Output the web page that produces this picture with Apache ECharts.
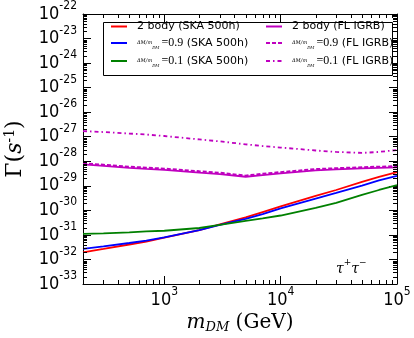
<!DOCTYPE html>
<html>
<head>
<meta charset="UTF-8">
<title></title>
<style type="text/css">
  html, body, #chart {
    margin: 0;
    padding: 0;
    width: 414px;
    height: 338px;
    background: #fff;
    overflow: hidden;
  }
</style>
</head>
<body>
<div id="chart"></div>
<script src="https://cdn.jsdelivr.net/npm/echarts@6/dist/echarts.min.js"></script>
<script>
// dark matter mass (GeV) and decay rate Gamma (s^-1)
const massGeV = [200, 300, 500, 700, 1000, 2000, 3000, 5000, 7000, 10000, 20000, 30000, 50000, 70000, 100000];
const gammaTwoBodySKA = [1.95e-32, 2.69e-32, 4.07e-32, 5.37e-32, 7.76e-32, 1.58e-31, 2.69e-31, 5.13e-31, 8.51e-31, 1.45e-30, 3.89e-30, 6.76e-30, 1.45e-29, 2.29e-29, 3.63e-29];
const gamma09SKA = [2.69e-32, 3.39e-32, 4.68e-32, 5.89e-32, 7.94e-32, 1.58e-31, 2.57e-31, 4.47e-31, 7.08e-31, 1.20e-30, 3.02e-30, 5.13e-30, 1.02e-29, 1.66e-29, 2.57e-29];
const gamma01SKA = [1.10e-31, 1.15e-31, 1.26e-31, 1.38e-31, 1.48e-31, 1.91e-31, 2.57e-31, 3.72e-31, 4.68e-31, 6.17e-31, 1.26e-30, 2.00e-30, 4.27e-30, 6.76e-30, 1.07e-29];
const gammaTwoBodyFL = [7.41e-29, 6.46e-29, 5.37e-29, 4.90e-29, 4.47e-29, 3.47e-29, 3.02e-29, 2.34e-29, 2.75e-29, 3.24e-29, 4.27e-29, 4.68e-29, 5.13e-29, 5.37e-29, 5.62e-29];
const gamma09FL = [8.3e-29, 7.2e-29, 6.0e-29, 5.5e-29, 5.0e-29, 3.9e-29, 3.4e-29, 2.6e-29, 3.1e-29, 3.6e-29, 4.8e-29, 5.2e-29, 5.7e-29, 6.0e-29, 6.3e-29];
const gamma01FL = [1.70e-27, 1.55e-27, 1.35e-27, 1.23e-27, 1.07e-27, 7.76e-28, 6.46e-28, 4.90e-28, 4.17e-28, 3.63e-28, 2.75e-28, 2.40e-28, 2.19e-28, 2.40e-28, 2.88e-28];

const seriesNames = [
  '2 body (SKA 500h)', 'ΔM/mDM = 0.9 (SKA 500h)', 'ΔM/mDM = 0.1 (SKA 500h)',
  '2 body (FL IGRB)', 'ΔM/mDM = 0.9 (FL IGRB)', 'ΔM/mDM = 0.1 (FL IGRB)'
];
const X_MIN = 200, X_MAX = 1e5;
// y axis runs in decades (log10 of Gamma): ECharts' log scale rounds 1e-30 to 0
const Y_MIN_EXP = -33, Y_MAX_EXP = -22;
const minorSteps = [2, 3, 4, 5, 6, 7, 8, 9];

const SANS = "'DejaVu Sans Condensed', 'DejaVu Sans'";
const SERIF = "'DejaVu Serif'";

// log minor tick positions (axis decoration only)
function minorTicks(lo, hi) {
  const out = [];
  for (let e = Math.floor(Math.log10(lo)); e < Math.ceil(Math.log10(hi)); e++) {
    minorSteps.forEach(function (k) {
      const v = k * Math.pow(10, e);
      if (v > lo * 1.0001 && v < hi * 0.9999) out.push(v);
    });
  }
  return out;
}

function xLabel(v) {
  const l = Math.log10(v);
  const e = Math.round(l);
  if (Math.abs(l - e) > 1e-6) return '';
  return '{b|10}{s|' + e + '}';
}

function yLabel(e) {
  return '{b|10}{s|' + Math.round(e) + '}';
}

const tickRich = {
  b: { fontFamily: SANS, fontSize: 18, lineHeight: 28, verticalAlign: 'middle', color: '#000' },
  s: { fontFamily: SANS, fontSize: 12, lineHeight: 11, verticalAlign: 'top', color: '#000' }
};

function pairs(ys) {
  return massGeV.map(function (m, i) { return [m, Math.log10(ys[i])]; });
}

function lineSeries(name, ys, color, type, width) {
  return {
    name: name,
    type: 'line',
    data: pairs(ys),
    symbol: 'none',
    smooth: false,
    lineStyle: { color: color, width: width, type: type },
    itemStyle: { color: color },
    z: 3
  };
}

function tickSeries(values, dir) {
  return {
    type: 'custom',
    silent: true,
    clip: false,
    z: 10,
    data: values.map(function (v) { return dir === 'x' ? [v, Y_MIN_EXP] : [X_MIN, Math.log10(v)]; }),
    renderItem: function (params, api) {
      const cs = params.coordSys;
      const p = api.coord([api.value(0), api.value(1)]);
      const st = { stroke: '#000', lineWidth: 1 };
      if (dir === 'x') {
        const x = Math.round(p[0]) + 0.5;
        return { type: 'group', children: [
          { type: 'line', shape: { x1: x, y1: cs.y + cs.height, x2: x, y2: cs.y + cs.height - 4 }, style: st },
          { type: 'line', shape: { x1: x, y1: cs.y, x2: x, y2: cs.y + 4 }, style: st }
        ] };
      }
      const y = Math.round(p[1]) + 0.5;
      return { type: 'group', children: [
        { type: 'line', shape: { x1: cs.x, y1: y, x2: cs.x + 4, y2: y }, style: st },
        { type: 'line', shape: { x1: cs.x + cs.width, y1: y, x2: cs.x + cs.width - 4, y2: y }, style: st }
      ] };
    }
  };
}

function legendLabel(name) {
  const m = name.match(/^ΔM\/mDM = (0\.\d) (.*)$/);
  if (!m) return '{t|' + name + '}';
  return '{fr|ΔM/m}{sb|DM}{m|=' + m[1] + '}{t| ' + m[2] + '}';
}

const legendText = {
  padding: [0, 0, 0, 5],
  rich: {
    t: { fontFamily: "'DejaVu Sans'", fontSize: 11, lineHeight: 14, color: '#000' },
    fr: { fontFamily: SERIF, fontStyle: 'italic', fontSize: 5, lineHeight: 14, color: '#000' },
    sb: { fontFamily: SERIF, fontStyle: 'italic', fontSize: 4, lineHeight: 10, verticalAlign: 'bottom', color: '#000', padding: [0, 2, 0, 0] },
    m: { fontFamily: "'Liberation Serif'", fontSize: 12, lineHeight: 14, color: '#000' }
  }
};

function legendBlock(names, left) {
  return {
    data: names,
    orient: 'vertical',
    left: left,
    top: 21,
    padding: 0,
    itemGap: 5,
    itemWidth: 16,
    itemHeight: 10,
    z: 6,
    selectedMode: false,
    itemStyle: { opacity: 0 },
    formatter: legendLabel,
    textStyle: legendText
  };
}

const axisCommon = {
  axisLine: { show: true, onZero: false, lineStyle: { color: '#000', width: 1 } },
  axisTick: { show: true, inside: true, length: 8, lineStyle: { color: '#000', width: 1 } },
  splitLine: { show: false },
  minorTick: { show: false },
  minorSplitLine: { show: false },
  nameMoveOverlap: false
};

const chart = echarts.init(document.getElementById('chart'), null, { renderer: 'canvas' });

chart.setOption({
  animation: false,
  backgroundColor: '#fff',
  grid: { left: 83, right: 17, top: 14, bottom: 54, containLabel: false, outerBoundsMode: 'none' },
  legend: [
    legendBlock(seriesNames.slice(0, 3), 110),
    legendBlock(seriesNames.slice(3), 265)
  ],
  graphic: [
    {
      type: 'rect', z: 5, silent: true,
      shape: { x: 103.5, y: 22.5, width: 289, height: 53 },
      style: { fill: '#fff', stroke: '#000', lineWidth: 1 }
    },
    {
      type: 'text', z: 6, left: 336, top: 258, silent: true,
      style: {
        text: '{i|τ}{p|+}{i|τ}{p|−}',
        rich: {
          i: { fontFamily: SERIF, fontStyle: 'italic', fontSize: 14, lineHeight: 18, verticalAlign: 'bottom', fill: '#000' },
          p: { fontFamily: SERIF, fontSize: 9, lineHeight: 9, verticalAlign: 'top', fill: '#000' }
        }
      }
    }
  ],
  xAxis: [
    Object.assign({}, axisCommon, {
      type: 'log', logBase: 10,
      min: X_MIN, max: X_MAX, position: 'bottom',
      axisLabel: { formatter: xLabel, margin: 2, rich: tickRich, showMinLabel: false },
      name: '{i|m}{sb|DM}{a| (GeV)}',
      nameLocation: 'middle',
      nameGap: 28,
      nameTextStyle: {
        rich: {
          i: { fontFamily: SERIF, fontStyle: 'italic', fontSize: 20, lineHeight: 22, color: '#000' },
          sb: { fontFamily: SERIF, fontStyle: 'italic', fontSize: 13, lineHeight: 12, verticalAlign: 'bottom', color: '#000' },
          a: { fontFamily: SERIF, fontSize: 20, lineHeight: 22, color: '#000' }
        }
      }
    }),
    Object.assign({}, axisCommon, {
      type: 'log', logBase: 10,
      min: X_MIN, max: X_MAX, position: 'top',
      axisLabel: { show: false }
    })
  ],
  yAxis: [
    Object.assign({}, axisCommon, {
      type: 'value',
      min: Y_MIN_EXP, max: Y_MAX_EXP, interval: 1, position: 'left',
      axisLabel: { formatter: yLabel, margin: 6, rich: tickRich },
      name: '{a|Γ(}{i|s}{p|-1}{a|)}',
      nameLocation: 'middle',
      nameGap: 56,
      nameRotate: 90,
      nameTextStyle: {
        rich: {
          a: { fontFamily: SERIF, fontSize: 22, lineHeight: 24, color: '#000' },
          i: { fontFamily: SERIF, fontStyle: 'italic', fontSize: 22, lineHeight: 24, color: '#000' },
          p: { fontFamily: SERIF, fontSize: 14, lineHeight: 12, verticalAlign: 'top', color: '#000' }
        }
      }
    }),
    Object.assign({}, axisCommon, {
      type: 'value',
      min: Y_MIN_EXP, max: Y_MAX_EXP, interval: 1, position: 'right',
      axisLabel: { show: false }
    })
  ],
  series: [
    lineSeries(seriesNames[0], gammaTwoBodySKA, '#ff0000', 'solid', 1.8),
    lineSeries(seriesNames[1], gamma09SKA, '#0000ff', 'solid', 1.8),
    lineSeries(seriesNames[2], gamma01SKA, '#008000', 'solid', 1.8),
    lineSeries(seriesNames[3], gammaTwoBodyFL, '#bf00bf', 'solid', 1.8),
    lineSeries(seriesNames[4], gamma09FL, '#bf00bf', [4, 2], 2),
    lineSeries(seriesNames[5], gamma01FL, '#bf00bf', [4, 3, 1.5, 3], 1.8),
    tickSeries(minorTicks(X_MIN, X_MAX), 'x'),
    tickSeries(minorTicks(Math.pow(10, Y_MIN_EXP), Math.pow(10, Y_MAX_EXP)), 'y')
  ]
});
</script>
</body>
</html>
